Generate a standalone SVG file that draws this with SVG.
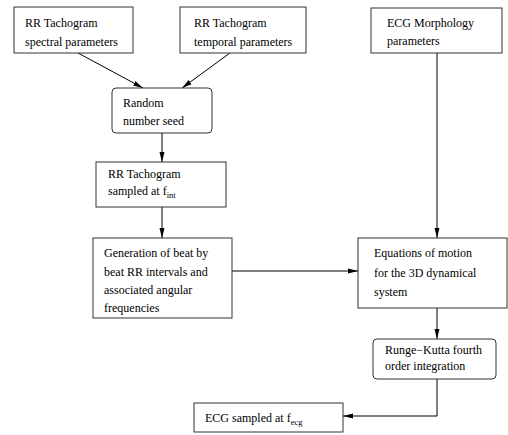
<svg xmlns="http://www.w3.org/2000/svg" width="508" height="435" viewBox="0 0 508 435">
<defs>
<marker id="arr" viewBox="0 0 10 10" refX="10" refY="5" markerWidth="10" markerHeight="10" markerUnits="userSpaceOnUse" orient="auto">
<path d="M0,2.5 L10,5 L0,7.5 Z" fill="#000"/>
</marker>
<style>
.box{fill:#fff;stroke:#333;stroke-width:1}
.t{font-family:"Liberation Serif","Times New Roman",serif;font-size:12px;fill:#000}
.s{font-size:8.5px;fill:#000}
.c{fill:none;stroke:#000;stroke-width:1;marker-end:url(#arr)}
</style>
</defs>
<rect width="508" height="435" fill="#fff"/>
<g id="connectors">
<line class="c" x1="78" y1="53" x2="143" y2="88"/>
<line class="c" x1="230" y1="53" x2="182" y2="88"/>
<line class="c" x1="162" y1="133" x2="162" y2="162"/>
<line class="c" x1="162" y1="207" x2="162" y2="238"/>
<line class="c" x1="232" y1="271" x2="358" y2="271"/>
<line class="c" x1="437" y1="53" x2="437" y2="238"/>
<line class="c" x1="437" y1="308" x2="437" y2="339"/>
<polyline class="c" points="437,379 437,416 343,416"/>
</g>
<g id="spectral">
<rect class="box" x="14" y="7" width="119" height="46"/>
<text class="t" x="25" y="27">RR Tachogram</text>
<text class="t" x="25" y="46">spectral parameters</text>
</g>
<g id="temporal">
<rect class="box" x="180" y="7" width="126" height="46"/>
<text class="t" x="194" y="27">RR Tachogram</text>
<text class="t" x="194" y="46">temporal parameters</text>
</g>
<g id="morphology">
<rect class="box" x="371" y="8" width="131" height="45"/>
<text class="t" x="387" y="27">ECG Morphology</text>
<text class="t" x="387" y="45">parameters</text>
</g>
<g id="seed">
<rect class="box" x="112" y="88" width="100" height="45" rx="4"/>
<text class="t" x="123" y="107">Random</text>
<text class="t" x="123" y="125">number seed</text>
</g>
<g id="sampled">
<rect class="box" x="96" y="162" width="130" height="45"/>
<text class="t" x="108" y="178">RR Tachogram</text>
<text class="t" x="108" y="195">sampled at f<tspan class="s" dy="3">int</tspan></text>
</g>
<g id="generation">
<rect class="box" x="93" y="238" width="139" height="80"/>
<text class="t" x="104" y="257">Generation of beat by</text>
<text class="t" x="104" y="276">beat RR intervals and</text>
<text class="t" x="104" y="294">associated angular</text>
<text class="t" x="104" y="312">frequencies</text>
</g>
<g id="equations">
<rect class="box" x="358" y="238" width="149" height="70"/>
<text class="t" x="374" y="257">Equations of motion</text>
<text class="t" x="374" y="277">for the 3D dynamical</text>
<text class="t" x="374" y="296">system</text>
</g>
<g id="rungekutta">
<rect class="box" x="373" y="339" width="123" height="40" rx="4"/>
<text class="t" x="385" y="354">Runge−Kutta fourth</text>
<text class="t" x="385" y="370">order integration</text>
</g>
<g id="ecgout">
<rect class="box" x="194" y="403" width="149" height="29"/>
<text class="t" x="205" y="422">ECG sampled at f<tspan class="s" dy="3">ecg</tspan></text>
</g>
</svg>
